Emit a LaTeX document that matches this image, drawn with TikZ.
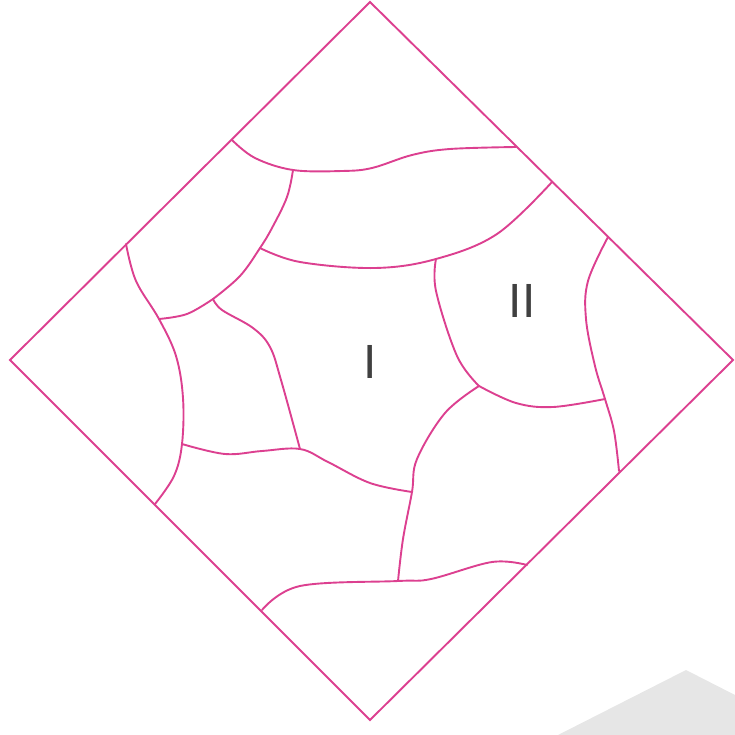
\documentclass[tikz,border=0pt]{standalone}
\usepackage{fontspec}
\setmainfont{Liberation Sans}
\definecolor{pinkline}{RGB}{220,64,144}
\definecolor{labelgrey}{RGB}{64,64,64}
\definecolor{shadegrey}{RGB}{230,230,230}
\begin{document}
\begin{tikzpicture}[x=1pt,y=-1pt,
  seam/.style={draw=pinkline,line width=1.9pt,line join=round,line cap=round},
  rim/.style={draw=pinkline,line width=1.9pt,line join=miter},
  lbl/.style={text=labelgrey,font=\fontsize{48}{48}\selectfont,inner sep=0pt}]
\useasboundingbox (0,0) rectangle (735,735);
% grey shape
\fill[shadegrey] (558,735) -- (686,670) -- (735,695) -- (735,735) -- cycle;
% diamond
\coordinate (T) at (370,2);
\coordinate (R) at (733,360);
\coordinate (B) at (370,720);
\coordinate (L) at (10,360);
\draw[rim] (T) -- (R) -- (B) -- (L) -- cycle;
% junctions
\coordinate (j1) at (293,170);
\coordinate (j2) at (260,248);
\coordinate (j3) at (213,299);
\coordinate (j4) at (159,319);
\coordinate (j5) at (182,444);
\coordinate (j6) at (300,449);
\coordinate (j7) at (412,492);
\coordinate (j8) at (398,581);
\coordinate (j9) at (479,386);
\coordinate (j10) at (436,259);
\coordinate (j11) at (605,399);
% top band
\draw[seam] plot[smooth,tension=0.6] coordinates {(232,140) (255,158) (j1) (342,171) (372,168) (412,155) (450,149) (516,147)};
\draw[seam] plot[smooth,tension=0.6] coordinates {(j1) (287,197) (272,228) (j2) (240,276) (j3)};
% second band
\draw[seam] plot[smooth,tension=0.6] coordinates {(j2) (300,262) (375,268) (j10) (497,234) (552,182)};
% left column
\draw[seam] plot[smooth,tension=0.6] coordinates {(126,244) (136,281) (j4) (176,356) (183,398) (j5) (174,476) (155,504)};
\draw[seam] plot[smooth,tension=0.6] coordinates {(j4) (187,314) (j3)};
\draw[seam] plot[smooth,tension=0.6] coordinates {(j3) (222,310) (253,328) (270,347) (281,380) (j6)};
% middle horizontal
\draw[seam] plot[smooth,tension=0.6] coordinates {(j5) (225,454) (262,451) (j6) (328,462) (370,483) (j7)};
% lower vertical
\draw[seam] plot[smooth,tension=0.6] coordinates {(j9) (445,413) (417,459) (j7) (403,539) (j8)};
% bottom band
\draw[seam] plot[smooth,tension=0.6] coordinates {(262,610) (300,586) (j8) (431,579) (492,562) (527,565)};
% right structure
\draw[seam] plot[smooth,tension=0.6] coordinates {(j10) (436,291) (457,356) (j9)};
\draw[seam] plot[smooth,tension=0.6] coordinates {(j9) (516,403) (553,407) (j11)};
\draw[seam] plot[smooth,tension=0.6] coordinates {(608,237) (588,281) (586,319) (595,366) (j11) (614,431) (619,471)};
% labels
\node[lbl] (labI) at (370,362) {I};
\node[lbl] (labII) at (522,301) {II};
\end{tikzpicture}
\end{document}
